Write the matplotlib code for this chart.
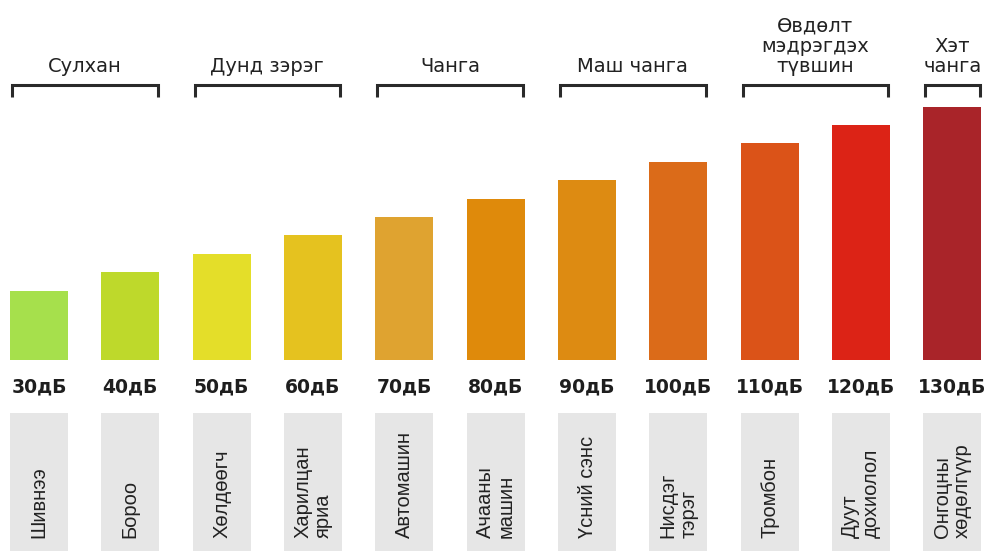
import matplotlib.pyplot as plt

# data
levels = [30, 40, 50, 60, 70, 80, 90, 100, 110, 120, 130]
level_labels = ["30дБ", "40дБ", "50дБ", "60дБ", "70дБ", "80дБ",
                "90дБ", "100дБ", "110дБ", "120дБ", "130дБ"]
sources = ["Шивнээ", "Бороо", "Хөлдөөгч", "Харилцан\nяриа", "Автомашин",
           "Ачааны\nмашин", "Үсний сэнс", "Нисдэг\nтэрэг", "Тромбон",
           "Дуут\nдохиолол", "Онгоцны\nхөдөлгүүр"]
groups = ["Сулхан", "Дунд зэрэг", "Чанга", "Маш чанга",
          "Өвдөлт\nмэдрэгдэх\nтүвшин", "Хэт\nчанга"]
group_spans = [(0, 1), (2, 3), (4, 5), (6, 7), (8, 9), (10, 10)]

colors = ["#a6e04c", "#bed92b", "#e4de29", "#e5c21f", "#dfa330", "#df8a0b",
          "#dd8b12", "#db6b19", "#db5318", "#dc2316", "#a92429"]

base = -7.7
def ypx(p):
    # convert a pixel row of the picture to the dB axis
    return base + (360 - p) / 1.84

fig = plt.figure(figsize=(9.88, 5.51), dpi=100)
ax = fig.add_axes([0, 0, 1, 1])
ax.set_xlim(-0.427, 10.389)
ax.set_ylim(ypx(551), ypx(0))
ax.axis('off')

x = list(range(len(levels)))
w = 0.635

# bars
ax.bar(x, [v - base for v in levels], bottom=base, width=w, color=colors)

# grey boxes under the bars
ax.bar(x, ypx(413) - ypx(560), bottom=ypx(560), width=w, color="#e6e6e6")

for i in x:
    ax.text(i, ypx(387), level_labels[i], ha='center', va='center',
            fontsize=13.5, fontweight='bold', color='#1e1e1e')
    ax.text(i, ypx(538), sources[i], rotation=90, ha='center', va='bottom',
            multialignment='left', family='Liberation Sans', fontsize=14.5,
            linespacing=1.1, color='#222222')

# group brackets and titles
for (a, b), g in zip(group_spans, groups):
    l = a - w / 2 + 0.02
    r = b + w / 2 - 0.02
    ax.plot([l, l, r, r], [ypx(97), ypx(85), ypx(85), ypx(97)], lw=2.2,
            color='#2a2a2a', solid_joinstyle='miter', solid_capstyle='butt')
    ax.text((a + b) / 2, ypx(76), g, ha='center', va='bottom', fontsize=14,
            linespacing=1.1, color='#222222')

plt.savefig('out.png', dpi=100)
